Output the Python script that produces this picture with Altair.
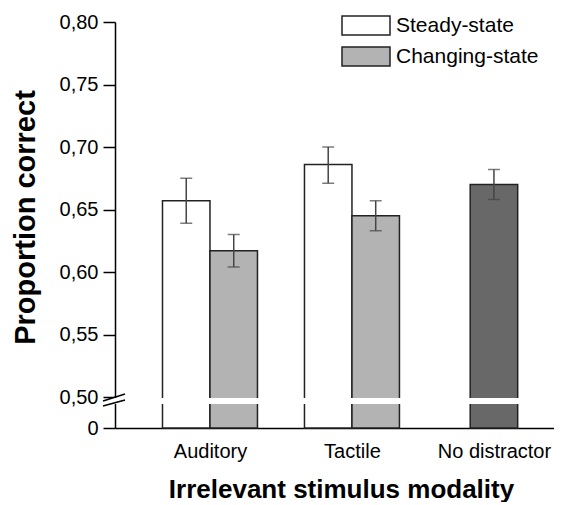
import json
import altair as alt
import pandas as pd

# ---------------- data ----------------
categories = ["Auditory", "Tactile", "No distractor"]
series = ["Steady-state", "Changing-state", "No distractor"]
bar_category = ["Auditory", "Auditory", "Tactile", "Tactile", "No distractor"]
bar_series = ["Steady-state", "Changing-state", "Steady-state", "Changing-state", "No distractor"]
means = [0.657, 0.617, 0.686, 0.645, 0.670]
err_low = [0.639, 0.604, 0.671, 0.633, 0.658]
err_high = [0.675, 0.630, 0.700, 0.657, 0.682]
y_major_ticks = [0.50, 0.55, 0.60, 0.65, 0.70, 0.75, 0.80]

# ---------------- styling / layout ----------------
colors = ["#ffffff", "#b3b3b3", "#686868"]
FONT = "Liberation Sans"
W, H = 439, 406
BW = 0.3345                # bar width in category units
D0 = 0.4752                # display position of the "0" value (below the axis break)
D_MINOR = 0.4856           # minor tick in the lower segment
X_DOMAIN = [0.331, 3.423]

rows = []
for cat, ser, m, lo, hi in zip(bar_category, bar_series, means, err_low, err_high):
    c = categories.index(cat) + 1
    if ser == "Steady-state":
        x1, x2 = c - BW, c
    elif ser == "Changing-state":
        x1, x2 = c, c + BW
    else:
        x1, x2 = c - BW / 2, c + BW / 2
    rows.append(dict(category=cat, series=ser, mean=m, lo=lo, hi=hi,
                     x1=x1, x2=x2, xc=(x1 + x2) / 2, base=D0))
df = pd.DataFrame(rows)

minor = [round(0.525 + 0.05 * i, 3) for i in range(6)]
y_values = [D0, D_MINOR] + sorted(y_major_ticks + minor)

major_test = "datum.value < 0.48 || round(datum.value*1000) % 50 == 0"
y_label_expr = ("datum.value < 0.48 ? '0' : (round(datum.value*1000) % 50 == 0 ? "
                "replace(format(datum.value, '.2f'), '.', ',') : '')")
x_label_expr = json.dumps(categories) + "[datum.value - 1]"

xscale = alt.Scale(domain=X_DOMAIN, nice=False, zero=False)
yscale = alt.Scale(domain=[D0, 0.80], nice=False, zero=False)

x_axis = alt.Axis(values=[1, 2, 3], labelExpr=x_label_expr, ticks=False,
                  grid=False, domainColor="#000000", domainWidth=1.5,
                  labelFontSize=20, labelPadding=13, labelColor="#000000",
                  title="Irrelevant stimulus modality", titleFontSize=26,
                  titleFontWeight="bold", titlePadding=15, titleColor="#000000",
                  titleX=226)
y_axis = alt.Axis(values=y_values, labelExpr=y_label_expr, grid=False,
                  tickSize={"condition": {"test": major_test, "value": 12}, "value": 7},
                  tickWidth=1.5, tickColor="#000000",
                  domainColor="#000000", domainWidth=1.5,
                  labelFontSize=20, labelPadding=5, labelColor="#000000",
                  title="Proportion correct", titleFontSize=29,
                  titleFontWeight="bold", titlePadding=19, titleColor="#000000",
                  titleY=195)

base = alt.Chart(df)

bars = base.mark_bar(stroke="#222222", strokeWidth=1.5, opacity=1).encode(
    x=alt.X("x1:Q", scale=xscale, axis=x_axis, title="Irrelevant stimulus modality"),
    x2="x2:Q",
    y=alt.Y("mean:Q", scale=yscale, axis=y_axis, title="Proportion correct"),
    y2="base:Q",
    fill=alt.Fill("series:N", scale=alt.Scale(domain=series, range=colors),
                  legend=alt.Legend(orient="none", legendX=240, legendY=-7.5, title=None,
                                    values=["Steady-state", "Changing-state"],
                                    symbolType="M-2.4,-0.95H2.4V0.95H-2.4Z",
                                    symbolSize=400, symbolStrokeColor="#222222",
                                    symbolStrokeWidth=1.5, symbolOpacity=1,
                                    labelFontSize=21, labelOffset=19, rowPadding=5,
                                    padding=0, labelColor="#000000", labelFont=FONT)),
)

err_rule = base.mark_rule(color="#444444", strokeWidth=1.5).encode(
    x=alt.X("xc:Q", title="Irrelevant stimulus modality"),
    y=alt.Y("lo:Q", title="Proportion correct"),
    y2="hi:Q",
)
cap_lo = base.mark_tick(orient="horizontal", size=12, thickness=1.5, color="#444444").encode(
    x=alt.X("xc:Q", title="Irrelevant stimulus modality"),
    y=alt.Y("lo:Q", title="Proportion correct"),
)
cap_hi = base.mark_tick(orient="horizontal", size=12, thickness=1.5, color="#444444").encode(
    x=alt.X("xc:Q", title="Irrelevant stimulus modality"),
    y=alt.Y("hi:Q", title="Proportion correct"),
)

# axis break: white gap through the bars and axis, plus the two slashes
one = pd.DataFrame({"a": [0]})
gap = alt.Chart(one).mark_rect(color="white").encode(
    x=alt.value(-4), x2=alt.value(W),
    y=alt.Y(datum=0.4992, title="Proportion correct"), y2=alt.datum(0.4944),
)
slash1 = alt.Chart(one).mark_rule(color="#000000", strokeWidth=1.5).encode(
    x=alt.value(-12), x2=alt.value(10),
    y=alt.Y(datum=0.4968, title="Proportion correct"), y2=alt.datum(0.5024),
)
slash2 = alt.Chart(one).mark_rule(color="#000000", strokeWidth=1.5).encode(
    x=alt.value(-12), x2=alt.value(10),
    y=alt.Y(datum=0.4928, title="Proportion correct"), y2=alt.datum(0.4976),
)

chart = alt.layer(bars, err_rule, cap_lo, cap_hi, gap, slash1, slash2).properties(
    width=W, height=H,
    autosize=alt.AutoSizeParams(type="none"),
    padding={"left": 107, "top": 14, "right": 0, "bottom": 74},
).configure(
    font=FONT,
).configure_view(stroke=None).configure_axis(labelFont=FONT, titleFont=FONT)

chart.save("out.html", embed_options={"renderer": "svg", "actions": False})
